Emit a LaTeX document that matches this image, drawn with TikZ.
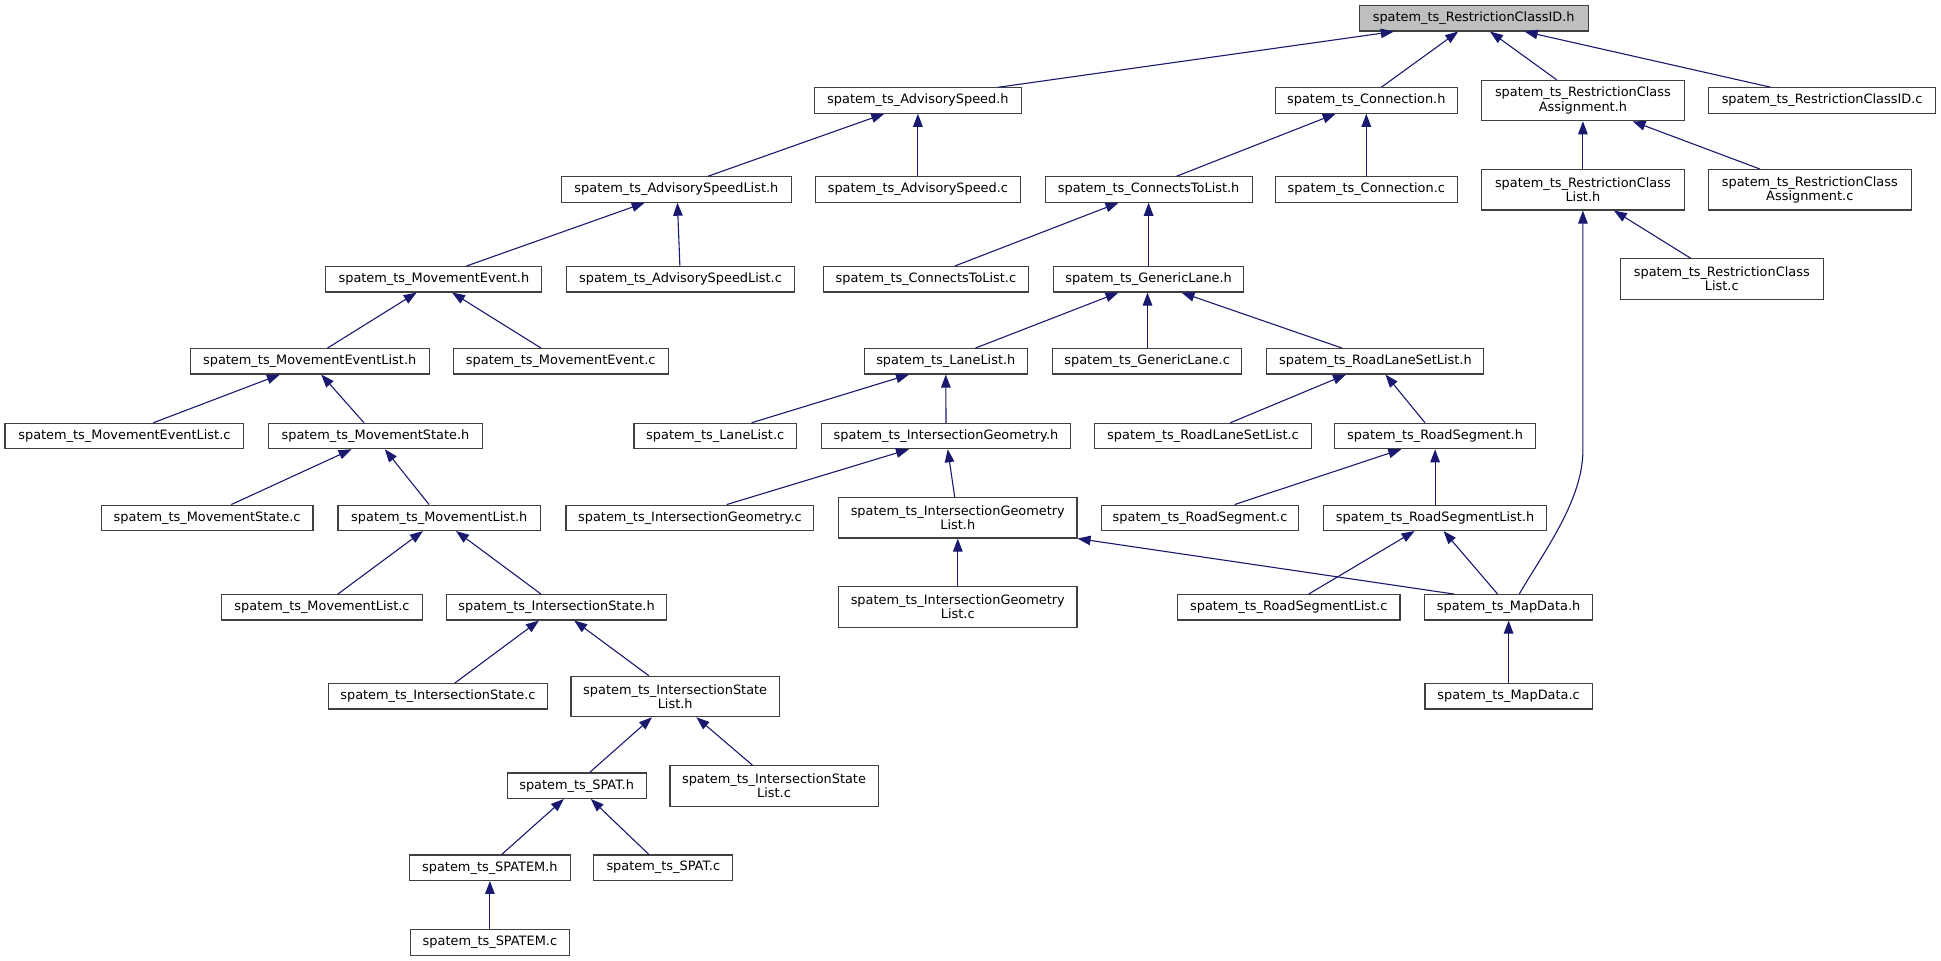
\documentclass[tikz,border=0pt]{standalone}
\usepackage{fontspec}
\setmainfont{DejaVu Sans}
\usetikzlibrary{arrows.meta}
\definecolor{edgeblue}{HTML}{191970}
\definecolor{boxline}{HTML}{404040}
\definecolor{topfill}{HTML}{BFBFBF}
\begin{document}
\begin{tikzpicture}[x=1pt,y=-1pt,
  filebox/.style={draw=boxline, line width=1.1pt, fill=white, inner sep=0pt,
    minimum height=25.4pt, align=center, font=\fontsize{12.9}{14.3}\selectfont},
  tallbox/.style={filebox, minimum height=40.4pt},
  dep/.style={draw=edgeblue, line width=1.1pt, -{Triangle[length=13pt,width=9.5pt]}}]
\useasboundingbox (0,0) rectangle (1941,961);
% row 0
\node[filebox, fill=topfill, minimum width=228.8pt] (rcidh) at (1473.7,18.3) {spatem\_ts\_RestrictionClassID.h};
% row 1
\node[filebox, minimum width=206.5pt] (advh) at (917.9,100.5) {spatem\_ts\_AdvisorySpeed.h};
\node[filebox, minimum width=182.5pt] (connh) at (1366.3,100.5) {spatem\_ts\_Connection.h};
\node[tallbox, minimum width=203pt] (rcah) at (1582.9,100.5) {spatem\_ts\_RestrictionClass\\Assignment.h};
\node[filebox, minimum width=227.1pt] (rcidc) at (1822.1,100.5) {spatem\_ts\_RestrictionClassID.c};
% row 2
\node[filebox, minimum width=230pt] (advlh) at (676.4,189.5) {spatem\_ts\_AdvisorySpeedList.h};
\node[filebox, minimum width=205.7pt] (advc) at (917.9,189.5) {spatem\_ts\_AdvisorySpeed.c};
\node[filebox, minimum width=206.9pt] (ctlh) at (1148.6,189.5) {spatem\_ts\_ConnectsToList.h};
\node[filebox, minimum width=182pt] (connc) at (1366.3,189.5) {spatem\_ts\_Connection.c};
\node[tallbox, minimum width=203pt] (rclh) at (1582.9,189.8) {spatem\_ts\_RestrictionClass\\List.h};
\node[tallbox, minimum width=202.6pt] (rcac) at (1809.8,189.8) {spatem\_ts\_RestrictionClass\\Assignment.c};
% row 3
\node[filebox, minimum width=216pt] (meh) at (433.9,279.3) {spatem\_ts\_MovementEvent.h};
\node[filebox, minimum width=228.4pt] (advlc) at (680.5,279.3) {spatem\_ts\_AdvisorySpeedList.c};
\node[filebox, minimum width=205.2pt] (ctlc) at (925.9,279.3) {spatem\_ts\_ConnectsToList.c};
\node[filebox, minimum width=190.3pt] (glh) at (1148.6,279.3) {spatem\_ts\_GenericLane.h};
\node[tallbox, minimum width=202.6pt] (rclc) at (1721.8,279) {spatem\_ts\_RestrictionClass\\List.c};
% row 4
\node[filebox, minimum width=238.8pt] (melh) at (309.7,361.3) {spatem\_ts\_MovementEventList.h};
\node[filebox, minimum width=215pt] (mec) at (560.7,361.3) {spatem\_ts\_MovementEvent.c};
\node[filebox, minimum width=163pt] (llh) at (945.8,361.3) {spatem\_ts\_LaneList.h};
\node[filebox, minimum width=189pt] (glc) at (1147.1,361.3) {spatem\_ts\_GenericLane.c};
\node[filebox, minimum width=217pt] (rlslh) at (1375.4,361.3) {spatem\_ts\_RoadLaneSetList.h};
% row 5
\node[filebox, minimum width=238.8pt] (melc) at (124.4,436) {spatem\_ts\_MovementEventList.c};
\node[filebox, minimum width=213.5pt] (msh) at (375.5,436) {spatem\_ts\_MovementState.h};
\node[filebox, minimum width=162.4pt] (llc) at (715.2,436) {spatem\_ts\_LaneList.c};
\node[filebox, minimum width=249.6pt] (igh) at (946,436) {spatem\_ts\_IntersectionGeometry.h};
\node[filebox, minimum width=216.3pt] (rlslc) at (1203,436) {spatem\_ts\_RoadLaneSetList.c};
\node[filebox, minimum width=200.6pt] (rsh) at (1435.1,436) {spatem\_ts\_RoadSegment.h};
% row 6
\node[filebox, minimum width=211.8pt] (msc) at (207.1,517.8) {spatem\_ts\_MovementState.c};
\node[filebox, minimum width=202.7pt] (mlh) at (439.3,517.8) {spatem\_ts\_MovementList.h};
\node[filebox, minimum width=247.8pt] (igc) at (689.9,517.8) {spatem\_ts\_IntersectionGeometry.c};
\node[tallbox, minimum width=238.4pt] (iglh) at (957.8,517.8) {spatem\_ts\_IntersectionGeometry\\List.h};
\node[filebox, minimum width=197.8pt] (rsc) at (1200,517.8) {spatem\_ts\_RoadSegment.c};
\node[filebox, minimum width=223pt] (rslh) at (1435.1,517.8) {spatem\_ts\_RoadSegmentList.h};
% row 7
\node[filebox, minimum width=201.1pt] (mlc) at (322,607.3) {spatem\_ts\_MovementList.c};
\node[filebox, minimum width=220.1pt] (ish) at (556.6,607.3) {spatem\_ts\_IntersectionState.h};
\node[tallbox, minimum width=238.4pt] (iglc) at (957.8,606.9) {spatem\_ts\_IntersectionGeometry\\List.c};
\node[filebox, minimum width=222.6pt] (rslc) at (1288.7,607.3) {spatem\_ts\_RoadSegmentList.c};
\node[filebox, minimum width=168.2pt] (mdh) at (1508.6,607.3) {spatem\_ts\_MapData.h};
% row 8
\node[filebox, minimum width=218.9pt] (isc) at (437.9,696.3) {spatem\_ts\_IntersectionState.c};
\node[tallbox, minimum width=208.5pt] (islh) at (675.2,696.5) {spatem\_ts\_IntersectionState\\List.h};
\node[filebox, minimum width=167.3pt] (mdc) at (1508.6,696.3) {spatem\_ts\_MapData.c};
% row 9
\node[filebox, minimum width=138.9pt] (spath) at (576.6,785.7) {spatem\_ts\_SPAT.h};
\node[tallbox, minimum width=208.1pt] (islc) at (774,785.9) {spatem\_ts\_IntersectionState\\List.c};
% row 10
\node[filebox, minimum width=160.5pt] (spatemh) at (489.9,867.7) {spatem\_ts\_SPATEM.h};
\node[filebox, minimum width=139.2pt] (spatc) at (663.3,867.7) {spatem\_ts\_SPAT.c};
% row 11
\node[filebox, minimum width=158.8pt] (spatemc) at (489.9,942.5) {spatem\_ts\_SPATEM.c};

% edges (child -> parent, arrow at parent)
\draw[dep] ([xshift=80.4pt]advh.north) -- ([xshift=-79.9pt]rcidh.south);
\draw[dep] ([xshift=15pt]connh.north) -- ([xshift=-15.5pt]rcidh.south);
\draw[dep] ([xshift=-26.3pt]rcah.north) -- ([xshift=16.3pt]rcidh.south);
\draw[dep] ([xshift=-51.3pt]rcidc.north) -- ([xshift=50.9pt]rcidh.south);
\draw[dep] ([xshift=31.6pt]advlh.north) -- ([xshift=-33.6pt]advh.south);
\draw[dep] (advc.north) -- (advh.south);
\draw[dep] ([xshift=27.9pt]ctlh.north) -- ([xshift=-30.6pt]connh.south);
\draw[dep] (connc.north) -- (connh.south);
\draw[dep] (rclh.north) -- (rcah.south);
\draw[dep] ([xshift=-49.8pt]rcac.north) -- ([xshift=49.6pt]rcah.south);
\draw[dep] ([xshift=-31.1pt]rclc.north) -- ([xshift=31pt]rclh.south);
\draw[dep] ([xshift=10.6pt]mdh.north) .. controls (1545,550) and (1582.9,500) .. (1582.9,450) -- (rclh.south);
\draw[dep] ([xshift=32.5pt]meh.north) -- ([xshift=-31.7pt]advlh.south);
\draw[dep] ([xshift=-0.6pt]advlc.north) -- ([xshift=1pt]advlh.south);
\draw[dep] ([xshift=28.8pt]ctlc.north) -- ([xshift=-30.1pt]ctlh.south);
\draw[dep] (glh.north) -- (ctlh.south);
\draw[dep] ([xshift=17.8pt]melh.north) -- ([xshift=-17.2pt]meh.south);
\draw[dep] ([xshift=-19.7pt]mec.north) -- ([xshift=18.1pt]meh.south);
\draw[dep] ([xshift=29.7pt]llh.north) -- ([xshift=-30.1pt]glh.south);
\draw[dep] ([xshift=0.4pt]glc.north) -- ([xshift=-1.1pt]glh.south);
\draw[dep] ([xshift=-33.4pt]rlslh.north) -- ([xshift=32.9pt]glh.south);
\draw[dep] ([xshift=29pt]melc.north) -- ([xshift=-29.8pt]melh.south);
\draw[dep] ([xshift=-11.5pt]msh.north) -- ([xshift=11.6pt]melh.south);
\draw[dep] ([xshift=24.2pt]msc.north) -- ([xshift=-23.9pt]msh.south);
\draw[dep] ([xshift=-10.2pt]mlh.north) -- ([xshift=9.3pt]msh.south);
\draw[dep] ([xshift=15.9pt]mlc.north) -- ([xshift=-16.4pt]mlh.south);
\draw[dep] ([xshift=-15.6pt]ish.north) -- ([xshift=16.7pt]mlh.south);
\draw[dep] ([xshift=36.4pt]llc.north) -- ([xshift=-36.8pt]llh.south);
\draw[dep] (igh.north) -- (llh.south);
\draw[dep] ([xshift=27.4pt]rlslc.north) -- ([xshift=-29.4pt]rlslh.south);
\draw[dep] ([xshift=-10.1pt]rsh.north) -- ([xshift=10.1pt]rlslh.south);
\draw[dep] ([xshift=36.8pt]igc.north) -- ([xshift=-37pt]igh.south);
\draw[dep] ([xshift=-3.1pt]iglh.north) -- ([xshift=1.7pt]igh.south);
\draw[dep] ([xshift=34.6pt]rsc.north) -- ([xshift=-33.8pt]rsh.south);
\draw[dep] (rslh.north) -- (rsh.south);
\draw[dep] (iglc.north) -- (iglh.south);
\draw[dep] ([xshift=-54.6pt]mdh.north) -- (iglh.south east);
\draw[dep] ([xshift=20pt]rslc.north) -- ([xshift=-20.5pt]rslh.south);
\draw[dep] ([xshift=-11pt]mdh.north) -- ([xshift=8.5pt]rslh.south);
\draw[dep] (mdc.north) -- (mdh.south);
\draw[dep] ([xshift=16.9pt]isc.north) -- ([xshift=-17.6pt]ish.south);
\draw[dep] ([xshift=-26.3pt]islh.north) -- ([xshift=17.6pt]ish.south);
\draw[dep] ([xshift=13pt]spath.north) -- ([xshift=-23.2pt]islh.south);
\draw[dep] ([xshift=-21.6pt]islc.north) -- ([xshift=21.2pt]islh.south);
\draw[dep] ([xshift=11.8pt]spatemh.north) -- ([xshift=-12.7pt]spath.south);
\draw[dep] ([xshift=-14.4pt]spatc.north) -- ([xshift=14.2pt]spath.south);
\draw[dep] (spatemc.north) -- (spatemh.south);
\end{tikzpicture}
\end{document}
